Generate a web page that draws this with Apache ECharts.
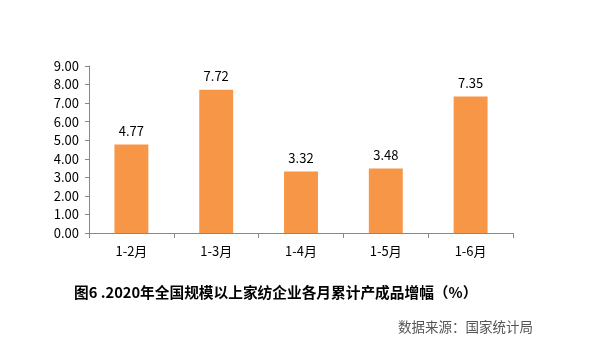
<!DOCTYPE html>
<html><head><meta charset="utf-8">
<script src="https://cdn.jsdelivr.net/npm/echarts@6/dist/echarts.min.js"></script>
<style>html,body{margin:0;padding:0;background:#fff}#c{width:600px;height:356px}</style>
</head><body><div id="c"></div>
<script>
var categories = ['1-2月','1-3月','1-4月','1-5月','1-6月'];
var values = [4.77, 7.72, 3.32, 3.48, 7.35];
var yMin = 0, yMax = 9, yInterval = 1;
var titleText = '图6 .2020年全国规模以上家纺企业各月累计产成品增幅（%）';
var sourceText = '数据来源：国家统计局';

var chart = echarts.init(document.getElementById('c'), null, {renderer:'canvas'});
var font = 'Noto Sans CJK SC, Noto Sans, sans-serif';
chart.setOption({
  animation:false,
  backgroundColor:'#fff',
  textStyle:{fontFamily:font},
  title:[
    {text:titleText, left:74, top:285, padding:0,
     textStyle:{fontSize:14.7, fontWeight:'bold', color:'#000', fontFamily:font}},
    {text:sourceText, right:67, top:320, padding:0,
     textStyle:{fontSize:13.5, fontWeight:'normal', color:'#555', fontFamily:font}}
  ],
  grid:{left:89, right:87, top:66, bottom:123, containLabel:false},
  xAxis:{type:'category', data:categories,
    axisLine:{lineStyle:{color:'#888', width:1}},
    axisTick:{show:true, alignWithLabel:false, length:5, lineStyle:{color:'#888'}},
    axisLabel:{fontSize:13, color:'#000', margin:12, fontFamily:font}
  },
  yAxis:{type:'value', min:yMin, max:yMax, interval:yInterval,
    splitLine:{show:false},
    axisLine:{show:true, lineStyle:{color:'#888', width:1}},
    axisTick:{show:true, length:4, lineStyle:{color:'#888'}},
    axisLabel:{fontSize:13, color:'#000', margin:10, fontFamily:font,
      formatter:function(v){return v.toFixed(2);}}
  },
  series:[{type:'bar', data:values, barWidth:'40%',
    itemStyle:{color:'#F79646'},
    label:{show:true, position:'top', distance:7, fontSize:13, color:'#000', fontFamily:font,
      formatter:function(p){return p.value.toFixed(2);}}
  }]
});
</script></body></html>
